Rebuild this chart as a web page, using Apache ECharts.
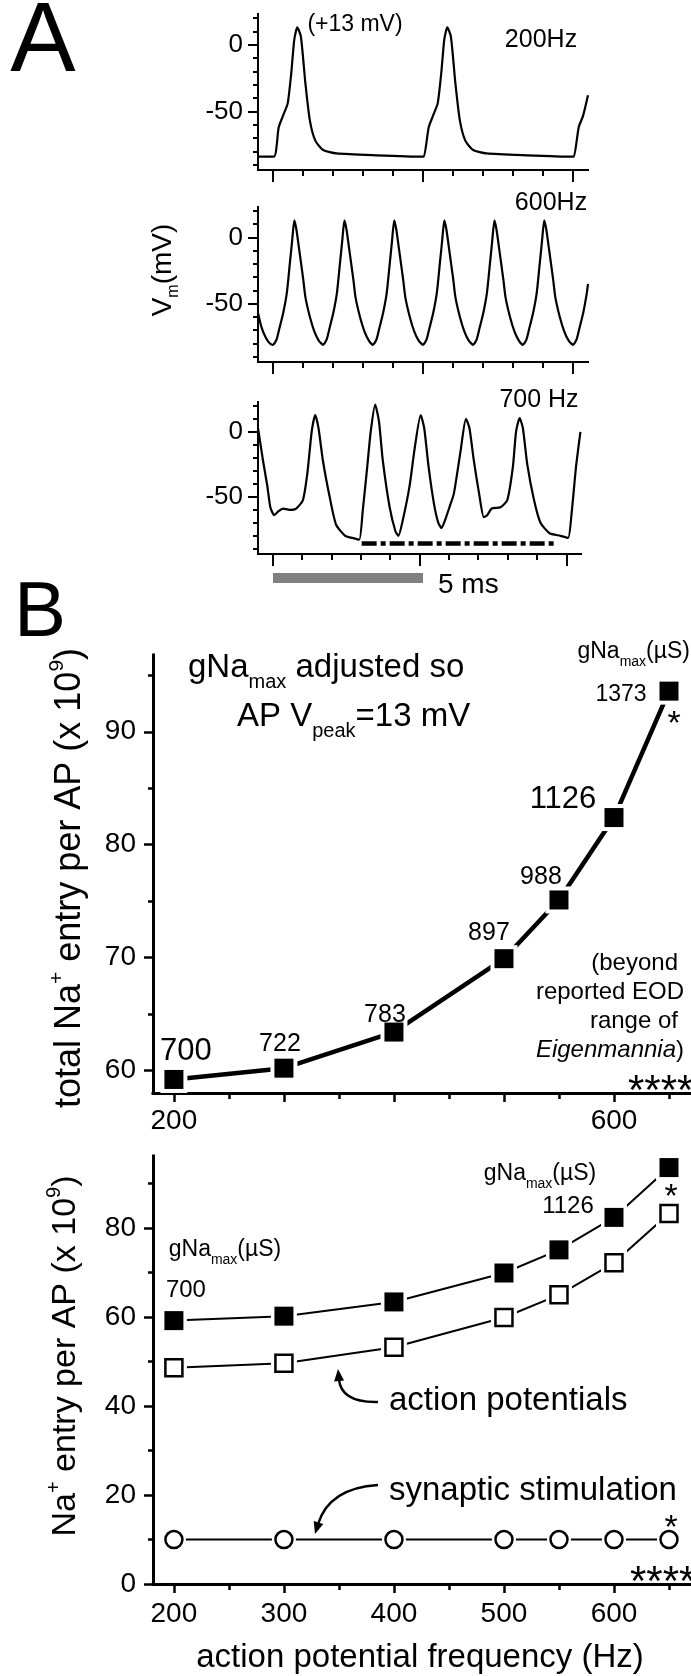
<!DOCTYPE html>
<html><head><meta charset="utf-8">
<script src="https://cdn.jsdelivr.net/npm/echarts@6.0.0/dist/echarts.min.js"></script>
<style>html,body{margin:0;padding:0;background:#fff}#c{width:691px;height:1676px}</style>
</head><body><div id="c"></div>
<script>
const FONT = '"Liberation Sans", Arial, Helvetica, sans-serif';

// ---------- Panel A : membrane potential traces (time ms, Vm mV) ----------
const t200 = [-0.5, 0.03, 0.19, 0.34, 0.49, 0.61, 0.71, 0.81, 0.93, 1.08, 1.23, 1.41, 1.67, 2.12, 3.45, 4.98,
              5.03, 5.19, 5.34, 5.49, 5.61, 5.71, 5.81, 5.93, 6.08, 6.23, 6.41, 6.67, 7.12, 8.45, 9.98,
              10.03, 10.19, 10.34, 10.5];
const v200 = [-84, -84, -62, -53, -44, -21, 4, 13, 6, -29, -57, -72, -79, -81.6, -83, -84,
              -84, -62, -53, -44, -21, 4, 13, 6, -29, -57, -72, -79, -81.6, -83, -84,
              -84, -62, -53, -38];

const t600 = [-0.5, -0.38, -0.23, -0.1,
  0, 0.12, 0.22, 0.34, 0.46, 0.56, 0.64, 0.71, 0.78, 0.89, 1.01, 1.08, 1.23, 1.38, 1.53,
  1.67, 1.79, 1.89, 2.01, 2.13, 2.23, 2.31, 2.38, 2.45, 2.56, 2.68, 2.75, 2.90, 3.05, 3.20,
  3.33, 3.45, 3.55, 3.67, 3.79, 3.89, 3.97, 4.04, 4.11, 4.22, 4.34, 4.41, 4.56, 4.71, 4.86,
  5.00, 5.12, 5.22, 5.34, 5.46, 5.56, 5.64, 5.71, 5.78, 5.89, 6.01, 6.08, 6.23, 6.38, 6.53,
  6.67, 6.79, 6.89, 7.01, 7.13, 7.23, 7.31, 7.38, 7.45, 7.56, 7.68, 7.75, 7.90, 8.05, 8.20,
  8.33, 8.45, 8.55, 8.67, 8.79, 8.89, 8.97, 9.04, 9.11, 9.22, 9.34, 9.41, 9.56, 9.71, 9.86,
  10.0, 10.12, 10.22, 10.34, 10.46, 10.5];
const v600 = [-57, -68, -76, -80,
  -81, -77, -68, -57, -42, -20, -2, 13, 6, -12, -32, -45, -60, -71, -78,
  -81, -77, -68, -57, -42, -20, -2, 13, 6, -12, -32, -45, -60, -71, -78,
  -81, -77, -68, -57, -42, -20, -2, 13, 6, -12, -32, -45, -60, -71, -78,
  -81, -77, -68, -57, -42, -20, -2, 13, 6, -12, -32, -45, -60, -71, -78,
  -81, -77, -68, -57, -42, -20, -2, 13, 6, -12, -32, -45, -60, -71, -78,
  -81, -77, -68, -57, -42, -20, -2, 13, 6, -12, -32, -45, -60, -71, -78,
  -81, -77, -68, -57, -42, -35];

const t700 = [-0.5, -0.33, -0.18, -0.08, 0.05, 0.2, 0.35, 0.57, 0.8, 1.03, 1.18, 1.33, 1.45, 1.56, 1.71,
  1.94, 2.16, 2.47, 2.77, 2.95, 3.07, 3.22, 3.34, 3.49, 3.62, 3.75, 3.98, 4.18, 4.28, 4.43, 4.66,
  4.84, 5.04, 5.16, 5.31, 5.49, 5.64, 5.75, 5.87, 6.02, 6.17, 6.4, 6.58, 6.7, 6.85, 7.03, 7.19,
  7.31, 7.46, 7.76, 7.99, 8.18, 8.29, 8.41, 8.52, 8.67, 8.9, 9.12, 9.43, 9.8, 10.06, 10.18, 10.33, 10.48];
const v700 = [3, -22, -42, -58, -64, -61, -59, -60, -59, -52.5, -32, 0.5, 13, 3, -22,
  -50, -71.5, -80, -82, -83, -60, -27, 0.5, 21, 8, -22, -57.6, -76.5, -80, -68, -42,
  -12, 13, 3, -27, -55, -70, -74, -68, -58, -47.5, -14.6, 10, 3, -22, -47.5, -65.7,
  -64, -59, -58, -52.5, -27, 0.5, 10.6, 3, -25, -52.5, -70, -78, -80, -81.6, -62.6, -27, 0];

const dashT = [3.03, 9.65];      // dash-dot bar under 700 Hz trace (ms)
const dashV = [-86, -86];
const scaleBarT = [0, 5];        // 5 ms scale bar

// ---------- Panel B : Na+ entry per AP (x 10^9) ----------
const freq    = [200, 300, 400, 500, 550, 600, 650];
const naTotal = [59.2, 60.2, 63.4, 69.9, 75.1, 82.4, 93.6];
const naAP    = [48.6, 49.6, 53.2, 59.9, 65.0, 72.2, 83.3];
const naSyn   = [10.0, 10.0, 10.0, 10.0, 10.0, 10.0, 10.0];
const gNaMax  = ['700', '722', '783', '897', '988', '1126', '1373'];

// ---------- tick values ----------
const aYMajor = [-50, 0];
const aYMinor = [-90, -80, -70, -60, -40, -30, -20, -10, 10, 20];
const aXMajor = [0, 5, 10];
const aXMinor = [1, 2, 3, 4, 6, 7, 8, 9];
const b1YMajor = [60, 70, 80, 90];
const b1YMinor = [65, 75, 85, 95];
const b2YMajor = [0, 20, 40, 60, 80];
const b2YMinor = [10, 30, 50, 70, 90];
const bXMajor = [200, 300, 400, 500, 600];
const bXMinor = [250, 350, 450, 550, 650];
const b1XLabels = [200, 600];
const b2XLabels = [200, 300, 400, 500, 600];

// ---------- layout ----------
const grids = [
  {left: 258, top: 14,   width: 330, height: 156},
  {left: 258, top: 207,  width: 330, height: 155},
  {left: 258, top: 402,  width: 323, height: 152},
  {left: 153, top: 655,  width: 538, height: 438},
  {left: 153, top: 1156, width: 538, height: 428},
  {left: 258, top: 573,  width: 330, height: 10}
].map(g => Object.assign({show: false, containLabel: false, outerBoundsMode: 'none'}, g));

const stA = {lw: 2, tw: 2, fs: 26};
const stB = {lw: 3, tw: 2.5, fs: 28};

function axisPair(dim, g, min, max, maj, mnr, labels, st, majLen, mnrLen, margin) {
  const base = {type: 'value', gridIndex: g, min, max, position: dim === 'x' ? 'bottom' : 'left',
    splitLine: {show: false}, minorTick: {show: false}, minorSplitLine: {show: false}, silent: true};
  const a = Object.assign({}, base, {
    axisLine: {show: true, onZero: false, lineStyle: {color: '#000', width: st.lw, cap: 'square'}},
    axisTick: {show: true, inside: false, length: majLen, customValues: maj, lineStyle: {color: '#000', width: st.tw}},
    axisLabel: {show: labels.length > 0, customValues: labels, margin, color: '#000',
      fontSize: st.fs, fontFamily: FONT, formatter: v => String(v)}
  });
  const b = Object.assign({}, base, {
    axisLine: {show: false, onZero: false},
    axisTick: {show: true, inside: false, length: mnrLen, customValues: mnr, lineStyle: {color: '#000', width: st.tw}},
    axisLabel: {show: false}
  });
  return [a, b];
}

const xAxis = [].concat(
  axisPair('x', 0, -0.5, 10.5, aXMajor, aXMinor, [], stA, 12, 6, 10),
  axisPair('x', 1, -0.5, 10.5, aXMajor, aXMinor, [], stA, 12, 6, 10),
  axisPair('x', 2, -0.5, 10.5, aXMajor, aXMinor, [], stA, 12, 6, 10),
  axisPair('x', 3, 181, 670, bXMajor, bXMinor, b1XLabels, stB, 9, 6, 14),
  axisPair('x', 4, 181, 670, bXMajor, bXMinor, b2XLabels, stB, 9, 6, 16),
  [{type: 'value', gridIndex: 5, min: -0.5, max: 10.5, show: false}]
);
const yAxis = [].concat(
  axisPair('y', 0, -94, 23, aYMajor, aYMinor, aYMajor, stA, 10, 5, 15),
  axisPair('y', 1, -94, 23, aYMajor, aYMinor, aYMajor, stA, 10, 5, 15),
  axisPair('y', 2, -94, 23, aYMajor, aYMinor, aYMajor, stA, 10, 5, 15),
  axisPair('y', 3, 58, 96.8, b1YMajor, b1YMinor, b1YMajor, stB, 9, 5, 17),
  axisPair('y', 4, 0, 96.2, b2YMajor, b2YMinor, b2YMajor, stB, 9, 5, 17),
  [{type: 'value', gridIndex: 5, min: 0, max: 1, show: false}]
);

const pairs = (xs, ys) => xs.map((x, i) => [x, ys[i]]);
const trace = (xi, d) => ({type: 'line', xAxisIndex: xi, yAxisIndex: xi, data: d, symbol: 'none', smooth: 0.2,
  lineStyle: {color: '#000', width: 2.2, join: 'round'}, silent: true, z: 2, animation: false});
const scat = (xi, d, symbol, size, fill, bw, z) => ({type: 'scatter', xAxisIndex: xi, yAxisIndex: xi, data: d,
  symbol, symbolSize: size, itemStyle: {color: fill, borderColor: '#000', borderWidth: bw, opacity: 1},
  silent: true, z, animation: false});
const plain = (xi, d, w) => ({type: 'line', xAxisIndex: xi, yAxisIndex: xi, data: d, symbol: 'none',
  lineStyle: {color: '#000', width: w}, silent: true, z: 2, animation: false});

const series = [
  trace(0, pairs(t200, v200)),                                    // 0
  trace(2, pairs(t600, v600)),                                    // 1
  trace(4, pairs(t700, v700)),                                    // 2
  {type: 'line', xAxisIndex: 4, yAxisIndex: 4, data: pairs(dashT, dashV), symbol: 'none', silent: true, z: 2,
   lineStyle: {color: '#000', width: 4.5, type: [15, 4, 5, 4], cap: 'butt'}},          // 3
  {type: 'line', xAxisIndex: 10, yAxisIndex: 10, data: pairs(scaleBarT, [0.5, 0.5]), symbol: 'none', silent: true,
   lineStyle: {color: '#808080', width: 10, cap: 'butt'}},                              // 4
  plain(6, pairs(freq, naTotal), 4.5),                                                  // 5
  scat(6, pairs(freq, naTotal), 'rect', 27, '#fff', 0, 3),                              // 6 halo
  scat(6, pairs(freq, naTotal), 'rect', 19, '#000', 0, 4),                              // 7
  plain(8, pairs(freq, naTotal), 2),                                                    // 8
  plain(8, pairs(freq, naAP), 2),                                                       // 9
  plain(8, pairs(freq, naSyn), 2),                                                      // 10
  scat(8, pairs(freq, naTotal), 'rect', 26, '#fff', 0, 3),                              // 11
  scat(8, pairs(freq, naAP), 'rect', 26, '#fff', 0, 3),                                 // 12
  scat(8, pairs(freq, naSyn), 'circle', 24, '#fff', 0, 3),                              // 13
  scat(8, pairs(freq, naTotal), 'rect', 19, '#000', 0, 4),                              // 14
  scat(8, pairs(freq, naAP), 'rect', 17, '#fff', 2.5, 4),                               // 15
  scat(8, pairs(freq, naSyn), 'circle', 17, '#fff', 2.5, 4)                             // 16
];

const chart = echarts.init(document.getElementById('c'), null, {renderer: 'canvas', width: 691, height: 1676});
chart.setOption({animation: false, backgroundColor: '#fff', grid: grids, xAxis, yAxis, series});

// ---------- annotations ----------
function rich(main, sub, lh) {
  const b = {fontFamily: FONT, fill: '#000'};
  return {
    m: Object.assign({fontSize: main, lineHeight: lh, verticalAlign: 'middle'}, b),
    it: Object.assign({fontSize: main, lineHeight: lh, verticalAlign: 'middle', fontStyle: 'italic'}, b),
    b: Object.assign({fontSize: sub, lineHeight: sub, verticalAlign: 'bottom'}, b),
    t: Object.assign({fontSize: sub, lineHeight: sub, verticalAlign: 'top'}, b)
  };
}
function label(x, y, text, o) {
  o = o || {};
  return {type: 'text', x, y, rotation: o.rot || 0, silent: true, z: 50,
    style: {text, fontFamily: FONT, fontSize: o.size || 24, fontStyle: o.italic ? 'italic' : 'normal', fill: '#000',
      align: o.align || 'center', verticalAlign: 'middle', rich: o.rich}};
}
function arrow(sx, sy, cx, cy, tx, ty, len, half) {
  const dx = tx - cx, dy = ty - cy, d = Math.hypot(dx, dy), ux = dx / d, uy = dy / d;
  const bx = tx - ux * len, by = ty - uy * len;
  return [
    {type: 'bezierCurve', silent: true, z: 50, shape: {x1: sx, y1: sy, cpx1: cx, cpy1: cy, x2: bx + ux * 2, y2: by + uy * 2},
     style: {stroke: '#000', lineWidth: 2.4, fill: null}},
    {type: 'polygon', silent: true, z: 50, shape: {points: [[tx, ty], [bx - uy * half, by + ux * half], [bx + uy * half, by - ux * half]]},
     style: {fill: '#000'}}
  ];
}
const P = (si, x, y) => chart.convertToPixel({seriesIndex: si}, [x, y]);

const g = [];
// Panel A labels
g.push(label(43, 44, 'A', {size: 98}));
g.push(label(355, 25, '(+13 mV)', {size: 23}));
g.push(label(541, 40, '200Hz', {size: 25}));
g.push(label(551, 203, '600Hz', {size: 25}));
g.push(label(539, 400, '700 Hz', {size: 25}));
g.push(label(163, 270, '{m|V}{b|m}{m|(mV)}', {rot: Math.PI / 2, rich: rich(28, 16, 38)}));
g.push(label(438, 585, '5 ms', {size: 28, align: 'left'}));
g.push(label(40, 614, 'B', {size: 78}));

// Panel B1 labels
g.push(label(188, 668, '{m|gNa}{b|max}{m| adjusted so}', {align: 'left', rich: rich(33, 20, 48)}));
g.push(label(237, 717, '{m|AP V}{b|peak}{m|=13 mV}', {align: 'left', rich: rich(33, 20, 48)}));
g.push(label(690, 652, '{m|gNa}{b|max}{m|(µS)}', {align: 'right', rich: rich(23, 14, 34)}));
const b1Off = [[12, -28], [-4, -24], [-9, -17], [-15, -26], [-18, -23], [-51, -18], [-48, 4]];
const b1Size = [31, 25, 25, 25, 25, 31, 23];
freq.forEach((f, i) => {
  const p = P(7, f, naTotal[i]);
  g.push(label(p[0] + b1Off[i][0], p[1] + b1Off[i][1], gNaMax[i], {size: b1Size[i]}));
});
const p650 = P(7, 650, naTotal[6]);
g.push(label(p650[0] + 5, p650[1] + 34, '*', {size: 34}));
g.push(label(678, 963, '(beyond', {size: 24, align: 'right'}));
g.push(label(684, 992, 'reported EOD', {size: 24, align: 'right'}));
g.push(label(678, 1021, 'range of', {size: 24, align: 'right'}));
g.push(label(684, 1050, '{it|Eigenmannia}{m|)}', {align: 'right', rich: rich(24, 14, 28)}));
g.push(label(628, 1092, '****', {size: 42, align: 'left'}));
g.push(label(70, 878, '{m|total Na}{t|+}{m| entry per AP (x 10}{t|9}{m|)}', {rot: Math.PI / 2, rich: rich(36, 21, 46)}));

// Panel B2 labels
const q600 = P(14, 600, naTotal[5]);
const q200 = P(14, 200, naTotal[0]);
const q650 = P(14, 650, naTotal[6]);
const c650 = P(16, 650, naSyn[6]);
g.push(label(540, 1174, '{m|gNa}{b|max}{m|(µS)}', {rich: rich(23, 14, 34)}));
g.push(label(q600[0] - 46, q600[1] - 11, '1126', {size: 24}));
g.push(label(q650[0] + 2, q650[1] + 30, '*', {size: 34}));
g.push(label(225, 1250, '{m|gNa}{b|max}{m|(µS)}', {rich: rich(23, 14, 34)}));
g.push(label(q200[0] + 12, q200[1] - 30, '700', {size: 24}));
g.push(label(389, 1401, 'action potentials', {size: 33, align: 'left'}));
g.push(label(389, 1491, 'synaptic stimulation', {size: 33, align: 'left'}));
g.push(label(c650[0] + 2, c650[1] - 11, '*', {size: 34}));
g.push(label(630, 1583, '****', {size: 42, align: 'left'}));
g.push(label(66, 1356, '{m|Na}{t|+}{m| entry per AP (x 10}{t|9}{m|)}', {rot: Math.PI / 2, rich: rich(34, 20, 44)}));
g.push(label(420, 1658, 'action potential frequency (Hz)', {size: 33}));
arrow(378, 1402, 341, 1403, 338, 1369, 12, 5).forEach(e => g.push(e));
arrow(378, 1485, 329, 1488, 315, 1534, 12, 5).forEach(e => g.push(e));

chart.setOption({graphic: {elements: g}});
</script></body></html>
